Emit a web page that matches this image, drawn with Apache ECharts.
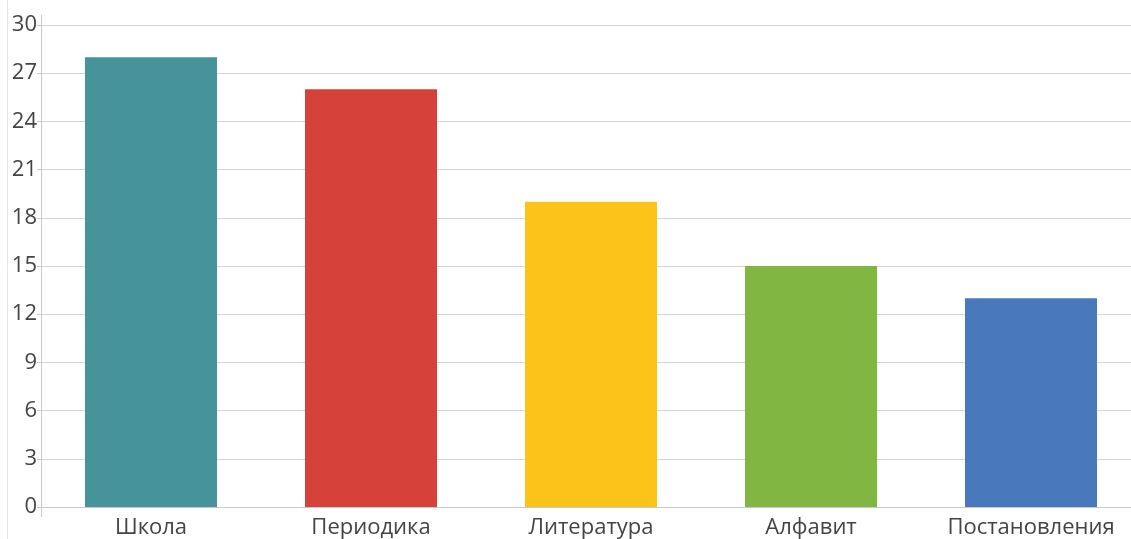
<!DOCTYPE html>
<html>
<head>
<meta charset="utf-8">
<script src="https://cdn.jsdelivr.net/npm/echarts@6/dist/echarts.min.js"></script>
<style>
html,body{margin:0;padding:0;background:#fff;overflow:hidden;width:1131px;height:539px;}
#chart{width:1141px;height:539px;}
</style>
</head>
<body>
<div id="chart"></div>
<script>
const categories = ['Школа', 'Периодика', 'Литература', 'Алфавит', 'Постановления'];
const values = [28, 26, 19, 15, 13];
const barColors = ['#47939c', '#d6423a', '#fcc419', '#80b641', '#4a78bd'];
const yTicks = { min: 0, max: 30, interval: 3 };

const chart = echarts.init(document.getElementById('chart'));
chart.setOption({
  animation: false,
  backgroundColor: '#fff',
  grid: { left: 41, top: 25, right: 0, bottom: 31, containLabel: false },
  graphic: [
    { type: 'line', shape: { x1: 7.5, y1: 0, x2: 7.5, y2: 539 }, style: { stroke: '#e6e6e6', lineWidth: 1 } },
    { type: 'line', shape: { x1: 41.5, y1: 15, x2: 41.5, y2: 25 }, style: { stroke: '#c8c8c8', lineWidth: 1 } },
    { type: 'line', shape: { x1: 41.5, y1: 508, x2: 41.5, y2: 517 }, style: { stroke: '#c8c8c8', lineWidth: 1 } }
  ],
  xAxis: {
    type: 'category',
    data: categories,
    axisLine: { show: true, lineStyle: { color: '#c8c8c8', width: 1 } },
    axisTick: { show: false },
    axisLabel: { color: '#444', fontSize: 22, fontFamily: 'Open Sans', margin: 10 }
  },
  yAxis: {
    type: 'value',
    min: yTicks.min, max: yTicks.max, interval: yTicks.interval,
    axisLine: { show: true, lineStyle: { color: '#c8c8c8', width: 1 } },
    axisTick: { show: true, length: 4, lineStyle: { color: '#c8c8c8' } },
    axisLabel: { color: '#444', fontSize: 22, fontFamily: 'Open Sans', margin: 4 },
    splitLine: { show: true, lineStyle: { color: '#d6d6d6', width: 1 } }
  },
  series: [{
    type: 'bar',
    data: values.map((v, i) => ({ value: v, itemStyle: { color: barColors[i] } })),
    barWidth: '60%'
  }]
});
</script>
</body>
</html>
